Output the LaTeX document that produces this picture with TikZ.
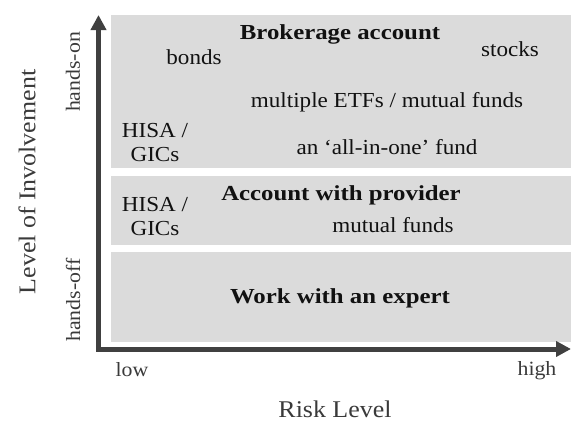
\documentclass[tikz,border=0pt]{standalone}
\usepackage{fontspec}
\setmainfont{Liberation Serif}[FakeStretch=1.08,BoldFeatures={FakeStretch=1.16}]
\usetikzlibrary{arrows.meta}
\definecolor{boxgray}{HTML}{DBDBDB}
\definecolor{axisgray}{HTML}{404040}
\definecolor{txt}{HTML}{111111}
\definecolor{lbl}{HTML}{3A3A3A}
\tikzset{
  band/.style={fill=boxgray, draw=none, inner sep=0pt, anchor=north west},
  itemtxt/.style={font=\fontsize{21.4}{24}\selectfont, text=txt, inner sep=0pt},
  headtxt/.style={font=\fontsize{21.4}{24}\selectfont\bfseries, text=txt, inner sep=0pt},
  ticktxt/.style={font=\fontsize{20.2}{24}\selectfont, text=lbl, inner sep=0pt},
  axtxt/.style={font=\fontsize{24}{28}\selectfont, text=lbl, inner sep=0pt},
  axisline/.style={draw=axisgray, line width=5pt, -{Triangle[length=15pt,width=15pt]}}
}
\begin{document}
\begin{tikzpicture}[x=1pt,y=-1pt]
\useasboundingbox (0,0) rectangle (587,439);
% bands
\node[band, minimum width=460pt, minimum height=153pt] (top) at (111,15) {};
\node[band, minimum width=460pt, minimum height=69pt] (mid) at (111,176) {};
\node[band, minimum width=460pt, minimum height=90pt] (bot) at (111,252) {};
% axes
\coordinate (origin) at (96,349);
\coordinate (ytip) at (98.5,15);
\coordinate (ybase) at (98.5,351.5);
\coordinate (xtip) at (571,349);
\draw[axisline] (ybase) -- (ytip);
\draw[axisline] (origin) -- (xtip);
% top band texts
\node[headtxt] (brok) at (340,34) {Brokerage account};
\node[itemtxt] (bonds) at (194,57) {bonds};
\node[itemtxt] (stocks) at (510,49) {stocks};
\node[itemtxt] (etfs) at (387,102) {multiple ETFs / mutual funds};
\node[itemtxt, align=center] (hisa1) at (155,143) {HISA /\\GICs};
\node[itemtxt] (allin) at (387,147) {an ‘all-in-one’ fund};
% middle band
\node[headtxt] (prov) at (341,195) {Account with provider};
\node[itemtxt, align=center] (hisa2) at (155,217) {HISA /\\GICs};
\node[itemtxt] (mf) at (393,225) {mutual funds};
% bottom band
\node[headtxt] (expert) at (340,298) {Work with an expert};
% axis labels
\node[ticktxt] (low) at (132,370) {low};
\node[ticktxt] (high) at (537,371) {high};
\node[axtxt] (risk) at (335,409) {Risk Level};
\node[axtxt, rotate=90] (invol) at (27,182) {Level of Involvement};
\node[ticktxt, rotate=90] (handson) at (73,72) {hands-on};
\node[ticktxt, rotate=90] (handsoff) at (73,300) {hands-off};
\end{tikzpicture}
\end{document}
